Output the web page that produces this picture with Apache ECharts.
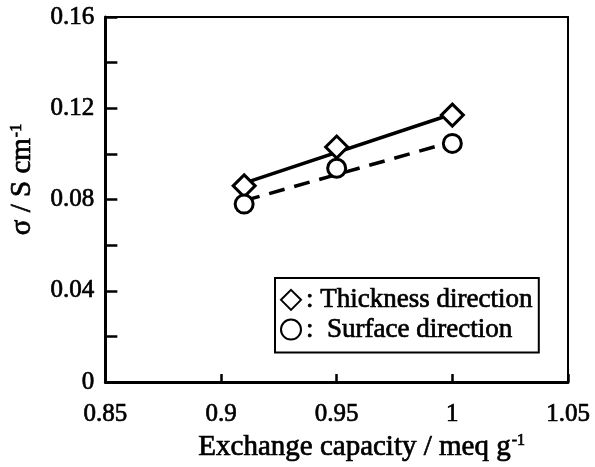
<!DOCTYPE html>
<html>
<head>
<meta charset="utf-8">
<script src="https://cdn.jsdelivr.net/npm/echarts@6/dist/echarts.min.js"></script>
<style>html,body{margin:0;padding:0;background:#fff}#c{width:595px;height:467px}</style>
</head>
<body>
<div id="c"></div>
<script>
// Data
var capacity = [0.91, 0.95, 1.0];
var thickness = [0.086, 0.103, 0.117];
var surface = [0.078, 0.0937, 0.1046];
var fitX = [0.91, 1.0];
var thicknessFit = [0.0872, 0.1175];
var surfaceFit = [0.0795, 0.1053];
var xTickLabels = ['0.85', '0.9', '0.95', '1', '1.05'];
var yTickLabels = ['0', '0.04', '0.08', '0.12', '0.16'];
var seriesNames = ['Thickness direction', 'Surface direction'];

function pairs(xs, ys) { return xs.map(function (x, i) { return [x, ys[i]]; }); }

var FONT = 'Liberation Serif';
var BW = 0.7; // text stroke to thicken glyphs like the scanned reference
var chart = echarts.init(document.getElementById('c'), null, { renderer: 'canvas' });
chart.setOption({
  animation: false,
  backgroundColor: '#fff',
  grid: { left: 103, right: 27, top: 17, bottom: 83, containLabel: false },
  xAxis: [{
    type: 'value', min: 0.85, max: 1.05, interval: 0.05,
    axisLine: { lineStyle: { color: '#000', width: 3 } },
    axisTick: { inside: true, length: 8, lineStyle: { color: '#000', width: 2.5 } },
    axisLabel: {
      margin: 20, color: '#000', fontFamily: FONT, fontSize: 25,
      textBorderColor: '#000', textBorderWidth: BW,
      formatter: function (v) { return xTickLabels[Math.round((v - 0.85) / 0.05)]; }
    },
    splitLine: { show: false },
    name: '{a|Exchange capacity / meq g}{s|-1}',
    nameLocation: 'middle', nameGap: 48,
    nameTextStyle: {
      padding: [0, 0, 0, 50],
      rich: {
        a: { fontFamily: FONT, fontSize: 29, color: '#000', textBorderColor: '#000', textBorderWidth: BW },
        s: { fontFamily: FONT, fontSize: 16, color: '#000', textBorderColor: '#000', textBorderWidth: BW, verticalAlign: 'top', padding: [0, 0, 12, 1] }
      }
    }
  }, {
    type: 'value', min: 0.85, max: 1.05, position: 'top',
    axisLine: { show: true, onZero: false, lineStyle: { color: '#000', width: 2 } },
    axisTick: { show: false }, axisLabel: { show: false }, splitLine: { show: false }
  }],
  yAxis: [{
    type: 'value', min: 0, max: 0.16, interval: 0.02,
    axisLine: { show: true, lineStyle: { color: '#000', width: 3 } },
    axisTick: { show: true, inside: true, length: 12, lineStyle: { color: '#000', width: 2.5 } },
    axisLabel: {
      margin: 11, color: '#000', fontFamily: FONT, fontSize: 25,
      textBorderColor: '#000', textBorderWidth: BW,
      formatter: function (v) {
        var k = Math.round(v / 0.02);
        return k % 2 === 0 ? yTickLabels[k / 2] : '';
      }
    },
    splitLine: { show: false },
    name: '{a|σ / S cm}{s|-1}',
    nameLocation: 'middle', nameGap: 68, nameRotate: 90,
    nameTextStyle: {
      padding: [0, 0, 0, 40],
      rich: {
        a: { fontFamily: FONT, fontSize: 29, color: '#000', textBorderColor: '#000', textBorderWidth: BW },
        s: { fontFamily: FONT, fontSize: 16, color: '#000', textBorderColor: '#000', textBorderWidth: BW, verticalAlign: 'top', padding: [0, 0, 12, 1] }
      }
    }
  }, {
    type: 'value', min: 0, max: 0.16, position: 'right',
    axisLine: { show: true, onZero: false, lineStyle: { color: '#000', width: 2 } },
    axisTick: { show: false }, axisLabel: { show: false }, splitLine: { show: false }
  }],
  legend: {
    orient: 'vertical', left: 275, top: 278,
    data: seriesNames,
    borderColor: '#000', borderWidth: 2, borderRadius: 0,
    padding: [8, 6, 9, 5], itemGap: 2, itemWidth: 20, itemHeight: 20,
    itemStyle: { opacity: 1 },
    textStyle: { fontFamily: FONT, fontSize: 27, color: '#000', textBorderColor: '#000', textBorderWidth: BW },
    formatter: function (n) { return n === seriesNames[0] ? ': ' + n : ':  ' + n; }
  },
  series: [{
    name: 'thicknessFit', type: 'line', data: pairs(fitX, thicknessFit),
    symbol: 'none', lineStyle: { color: '#000', width: 3.5 }, z: 1
  }, {
    name: 'surfaceFit', type: 'line', data: pairs(fitX, surfaceFit),
    symbol: 'none', lineStyle: { color: '#000', width: 3.5, type: [16, 10] }, z: 1
  }, {
    name: seriesNames[0], type: 'scatter', data: pairs(capacity, thickness),
    symbol: 'diamond', symbolSize: [22, 22],
    itemStyle: { color: '#fff', borderColor: '#000', borderWidth: 3, opacity: 1 }, z: 3
  }, {
    name: seriesNames[1], type: 'scatter', data: pairs(capacity, surface),
    symbol: 'circle', symbolSize: 18,
    itemStyle: { color: '#fff', borderColor: '#000', borderWidth: 3, opacity: 1 }, z: 3
  }]
});
</script>
</body>
</html>
